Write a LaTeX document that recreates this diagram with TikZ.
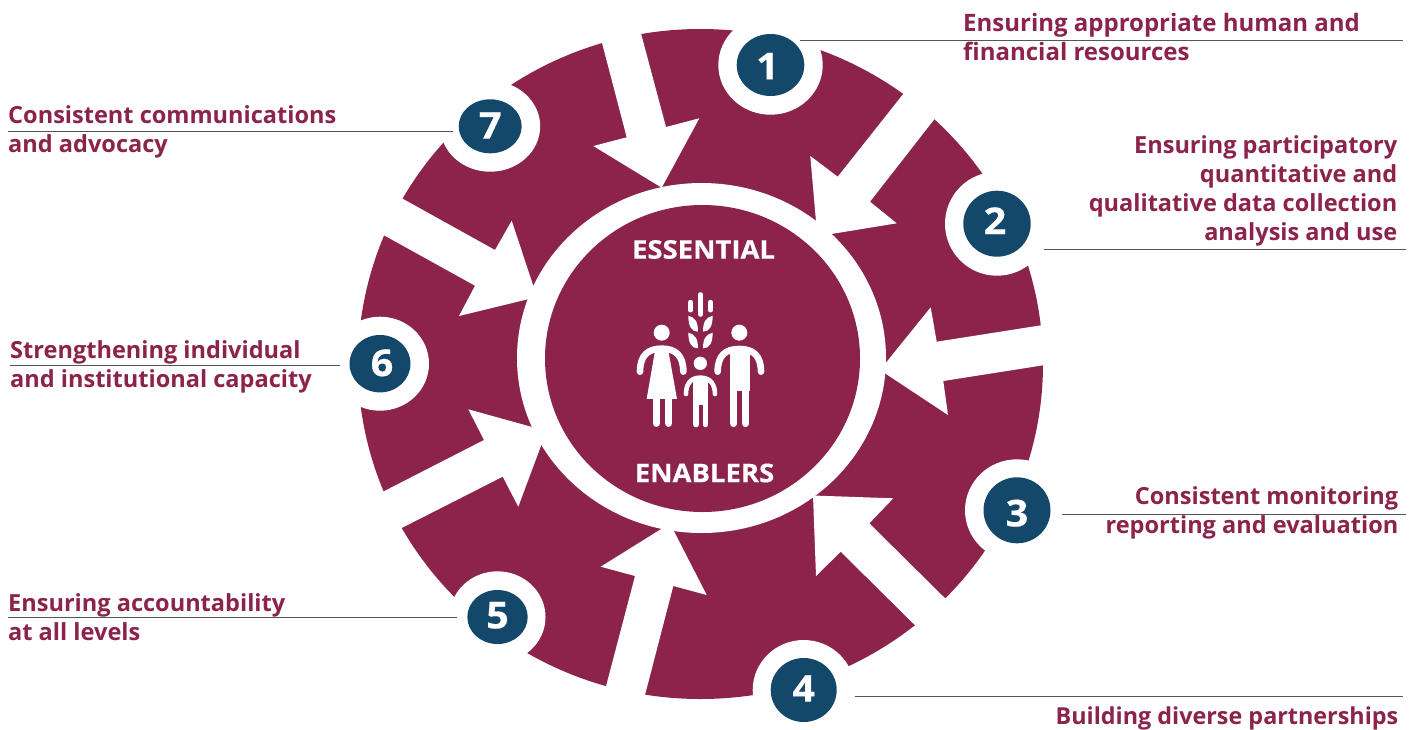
\documentclass[tikz,border=0pt]{standalone}
\usepackage{fontspec}
\setmainfont{Open Sans}
\newfontfamily\heavyf[BoldFeatures={FakeBold=0.4,FakeStretch=1.07}]{Open Sans}
\usetikzlibrary{shapes.geometric}
\definecolor{wine}{RGB}{140,35,74}
\definecolor{navy}{RGB}{20,72,107}
\definecolor{leaderc}{RGB}{85,85,85}
\tikzset{
  gap/.style={fill=white,draw=none},
  badge/.style={ellipse,fill=navy,text=white,inner sep=0pt,text depth=0pt,font=\fontsize{37}{37}\selectfont\heavyf\bfseries},
  leader/.style={draw=leaderc,line width=1pt},
  lab/.style={text=wine,inner sep=0pt,font=\fontsize{23.55}{29}\selectfont\bfseries},
  labwide/.style={text=wine,inner sep=0pt,font=\fontsize{24}{29}\selectfont\bfseries},
  labnarrow/.style={text=wine,inner sep=0pt,font=\fontsize{23.35}{29}\selectfont\bfseries},
  hub/.style={text=white,inner sep=0pt,font=\fontsize{25.7}{30}\selectfont\heavyf\bfseries},
  limb/.style={draw=white,line cap=round,line join=round},
}
\begin{document}
\begin{tikzpicture}[x=1pt,y=-1pt]
\useasboundingbox (0,0) rectangle (1418,729);
% outer disc
\fill[wine] (700.5,364) ellipse [x radius=342.5,y radius=335];
% arrows
\fill[gap] (596,20) -- (626.7,137.3) -- (593.3,146) -- (661.7,187.7) -- (699.3,118.3) -- (666,127) -- (635,11) -- cycle;
\fill[gap] (923,69) -- (837.7,176.7) -- (810.3,156) -- (817.3,236.3) -- (896.7,223.3) -- (870,201.7) -- (954,94) -- cycle;
\fill[gap] (1062,322) -- (936.7,341.7) -- (930.7,307.3) -- (880,370) -- (948,415) -- (943.3,381) -- (1064,362) -- cycle;
\fill[gap] (967,620) -- (869.3,523.3) -- (893.3,498.3) -- (813,495.5) -- (816,576) -- (840.7,551.7) -- (937,647) -- cycle;
\fill[gap] (638,722) -- (673.3,586) -- (706.7,595) -- (670,523.5) -- (600.7,566.7) -- (635,576) -- (599,713) -- cycle;
\fill[gap] (357,505) -- (484,440) -- (468.3,409.3) -- (546.5,431) -- (518.3,506.7) -- (502.7,476.7) -- (376,541) -- cycle;
\fill[gap] (378,185) -- (495,250) -- (511.7,220.7) -- (537,297) -- (459,316) -- (475,285.7) -- (360,222) -- cycle;
% halos
\fill[white] (770.5,65) ellipse [x radius=52.2,y radius=49.7];
\fill[white] (997,223.7) ellipse [x radius=52,y radius=52];
\fill[white] (1017,510.3) ellipse [x radius=52,y radius=51];
\fill[white] (803.7,690) ellipse [x radius=51,y radius=50];
\fill[white] (497.5,617) ellipse [x radius=48,y radius=45.7];
\fill[white] (380,363.7) ellipse [x radius=49,y radius=47];
\fill[white] (490.2,126.3) ellipse [x radius=50,y radius=45.4];
% hub
\fill[white] (701.5,358) ellipse [x radius=184.5,y radius=175];
\fill[wine] (702.5,358.5) ellipse [x radius=157.5,y radius=153.5];
\node[hub] (ess) at (703.5,249.5) {ESSENTIAL};
\node[hub] (ena) at (704.5,473) {ENABLERS};
% icon
\begin{scope}[shift={(620,280)},x=0.3333pt,y=-0.3333pt]
  % wheat
  \draw[limb,line width=4.3pt] (241.5,43) -- (241.5,104);
  \draw[limb,line width=4.3pt] (211.5,66) -- (211.5,91);
  \draw[limb,line width=4.3pt] (271.5,66) -- (271.5,91);
  \fill[white] (205,107) .. controls (225,112) and (234,125) .. (234,155) .. controls (215,155) and (205,140) .. (205,107) -- cycle;
  \fill[white] (205,158) .. controls (225,163) and (234,176) .. (234,205) .. controls (215,205) and (205,190) .. (205,158) -- cycle;
  \fill[white] (278,107) .. controls (258,112) and (249,125) .. (249,155) .. controls (268,155) and (278,140) .. (278,107) -- cycle;
  \fill[white] (278,158) .. controls (258,163) and (249,176) .. (249,205) .. controls (268,205) and (278,190) .. (278,158) -- cycle;
  % woman
  \fill[white] (125,158) circle (24);
  \draw[limb,line width=6.6pt] (60,275) .. controls (60,225) and (85,206) .. (125,206) .. controls (165,206) and (190,225) .. (190,275);
  \fill[white] (105,212) -- (145,212) -- (171,357) -- (80,357) -- cycle;
  \draw[limb,line width=7.3pt] (109,355) -- (109,430);
  \draw[limb,line width=7.3pt] (146,355) -- (146,430);
  % man
  \fill[white] (358,158) circle (24);
  \draw[limb,line width=6.6pt] (293,275) .. controls (293,225) and (318,207) .. (358,207) .. controls (398,207) and (423,225) .. (423,275);
  \fill[white] (329,212) -- (389,212) -- (389,332) -- (329,332) -- cycle;
  \draw[limb,line width=7.6pt] (341,325) -- (341,430);
  \draw[limb,line width=7.6pt] (377,325) -- (377,430);
  % child
  \fill[white] (241,250) circle (20);
  \draw[limb,line width=4.6pt] (198,342) .. controls (198,312) and (212,293) .. (241,293) .. controls (270,293) and (285,312) .. (285,342);
  \fill[white] (219,296) -- (264,296) -- (264,374) -- (219,374) -- cycle;
  \draw[limb,line width=5.3pt] (228,370) -- (228,434);
  \draw[limb,line width=5.3pt] (256,370) -- (256,434);
\end{scope}
% badges
\node[badge,text height=28.7pt,minimum width=67.6pt,minimum height=62pt] (b1) at (770.5,65) {\kern-6pt 1};
\node[badge,text height=20.7pt,minimum width=67.4pt,minimum height=66pt] (b2) at (997,223.7) {\kern-4pt 2};
\node[badge,text height=32.1pt,minimum width=67pt,minimum height=66pt] (b3) at (1017,510.3) {3};
\node[badge,text height=23.3pt,minimum width=66pt,minimum height=64pt] (b4) at (803.7,690) {4};
\node[badge,text height=22.7pt,minimum width=60.4pt,minimum height=54pt] (b5) at (497.5,617) {5};
\node[badge,text height=24.7pt,minimum width=61pt,minimum height=57.4pt] (b6) at (380,363.7) {\kern4pt 6};
\node[badge,text height=24.7pt,minimum width=63pt,minimum height=54pt] (b7) at (490.2,126.3) {7};
% labels
\node[labwide,anchor=north west,align=left] (t1) at (963,13.5) {Ensuring appropriate human and\\financial resources};
\node[lab,anchor=north east,align=right] (t2) at (1397.5,135.5) {Ensuring participatory\\quantitative and\\qualitative data collection\\analysis and use};
\node[lab,anchor=north east,align=right] (t3) at (1398.5,486.5) {Consistent monitoring\\reporting and evaluation};
\node[labnarrow,anchor=north east,align=right] (t4) at (1398.5,706.5) {Building diverse partnerships};
\node[lab,anchor=north west,align=left] (t5) at (8,593.5) {Ensuring accountability\\at all levels};
\node[lab,anchor=north west,align=left] (t6) at (10,340.5) {Strengthening individual\\and institutional capacity};
\node[lab,anchor=north west,align=left] (t7) at (8,105.5) {Consistent communications\\and advocacy};
% leaders
\coordinate (e1) at (1403,40.5);
\coordinate (e2) at (1406,249);
\coordinate (e3) at (1406,514);
\coordinate (e4) at (1403,696);
\coordinate (e5) at (8,617.5);
\coordinate (e6) at (10,365);
\coordinate (e7) at (8,131);
\draw[leader] ([shift={(29.5,-24.5)}]b1.center) -- (e1);
\draw[leader] ([shift={(47,25.3)}]b2.center) -- (e2);
\draw[leader] ([shift={(45,3.7)}]b3.center) -- (e3);
\draw[leader] ([shift={(51,6)}]b4.center) -- (e4);
\draw[leader] ([shift={(-41,0.5)}]b5.center) -- (e5);
\draw[leader] ([shift={(-40,1.3)}]b6.center) -- (e6);
\draw[leader] ([shift={(-37.5,4.7)}]b7.center) -- (e7);
\end{tikzpicture}
\end{document}
